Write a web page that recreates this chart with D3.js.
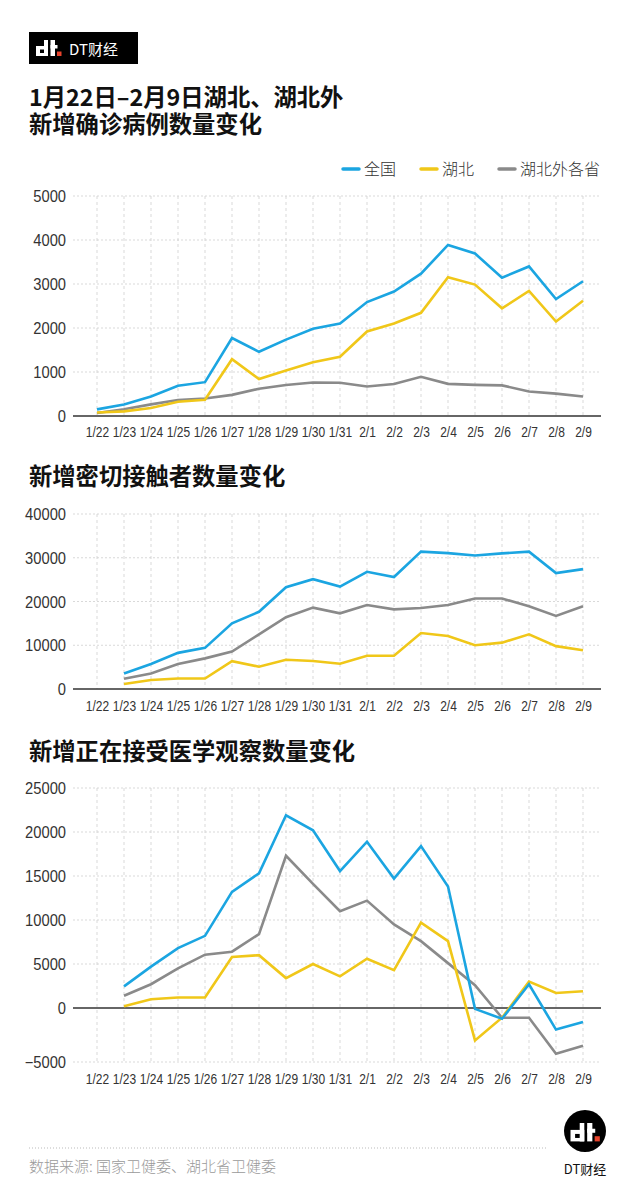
<!DOCTYPE html>
<html><head><meta charset="utf-8">
<script src="https://cdn.jsdelivr.net/npm/d3@7/dist/d3.min.js"></script>
<style>
body{margin:0;background:#fff;}
svg{display:block;}
.tick-y{font-family:"Liberation Sans",Arial,sans-serif;font-size:16px;fill:#333;}
.tick-x{font-family:"Liberation Sans",Arial,sans-serif;font-size:15px;fill:#333;}
.title{font-family:"Noto Sans CJK SC",sans-serif;font-weight:700;font-size:23.3px;fill:#111;}
.legend{font-family:"Noto Sans CJK SC",sans-serif;font-weight:300;font-size:16px;fill:#333;}
</style>
</head><body>
<script>
const dates = ["1/22","1/23","1/24","1/25","1/26","1/27","1/28","1/29","1/30","1/31","2/1","2/2","2/3","2/4","2/5","2/6","2/7","2/8","2/9"];
const seriesNames = ["全国","湖北","湖北外各省"];
const seriesColors = ["#1ba5e1","#f0c719","#8a8a8a"];

// Chart 1: 新增确诊病例
const confirmedNational = [150,259,444,688,769,1771,1459,1737,1982,2102,2590,2829,3235,3887,3694,3143,3399,2656,3062];
const confirmedHubei    = [80,105,180,323,371,1291,840,1032,1220,1347,1921,2103,2345,3156,2987,2447,2841,2147,2618];
const confirmedOther    = [70,154,264,365,398,480,619,705,762,755,669,726,890,731,707,696,558,509,444];
const ticks1 = [0,1000,2000,3000,4000,5000];

// Chart 2: 新增密切接触者 (no 1/22 data)
const contactNational = [null,3560,5700,8260,9400,15000,17650,23260,25100,23400,26800,25600,31400,31060,30500,31000,31400,26500,27400];
const contactHubei    = [null,1140,2050,2400,2400,6360,5100,6700,6400,5760,7600,7600,12800,12100,10000,10600,12500,9800,8860];
const contactOther    = [null,2350,3560,5700,7000,8560,12500,16400,18600,17300,19200,18200,18500,19200,20700,20700,18900,16700,18900];
const ticks2 = [0,10000,20000,30000,40000];

// Chart 3: 新增正在接受医学观察 (no 1/22 data)
const obsNational = [null,2460,4700,6800,8200,13200,15300,21900,20200,15560,18900,14700,18400,13800,-80,-1000,2700,-2000,-1300];
const obsHubei    = [null,200,1000,1200,1200,5800,6000,3400,5000,3600,5600,4300,9700,7600,-3000,-900,3000,1700,1900];
const obsOther    = [null,1400,2700,4500,6060,6400,8400,17300,14100,11000,12200,9500,7600,5100,2600,-900,-900,-4240,-3500];
const ticks3 = [-5000,0,5000,10000,15000,20000,25000];

const W = 641, H = 1188;
const svg = d3.select("body").append("svg").attr("width",W).attr("height",H);
svg.append("rect").attr("width",W).attr("height",H).attr("fill","#fff");

// dt logo glyph
function dtGlyph(g, s){
  const w = "#fff";
  g.append("rect").attr("x",0).attr("y",6*s).attr("width",12*s).attr("height",10*s).attr("fill",w);
  g.append("rect").attr("x",8*s).attr("y",0).attr("width",4*s).attr("height",16*s).attr("fill",w);
  g.append("rect").attr("x",4*s).attr("y",9.5*s).attr("width",4*s).attr("height",3.5*s).attr("fill","#000");
  g.append("rect").attr("x",14.5*s).attr("y",0).attr("width",4.5*s).attr("height",16*s).attr("fill",w);
  g.append("rect").attr("x",14.5*s).attr("y",5*s).attr("width",7*s).attr("height",3.5*s).attr("fill",w);
  g.append("rect").attr("x",21*s).attr("y",11.5*s).attr("width",4.5*s).attr("height",4.5*s).attr("fill","#e8432c");
}

// header logo box
svg.append("rect").attr("x",29).attr("y",32).attr("width",109).attr("height",32).attr("fill","#000");
dtGlyph(svg.append("g").attr("transform","translate(36,40)"),1);
svg.append("text").attr("x",69).attr("y",55).attr("fill","#fff")
  .style("font-family","'Noto Sans CJK SC',sans-serif").style("font-size","15px").text("DT财经");

// main title (one text, two lines)
const mainTitle = svg.append("text").attr("class","title").attr("x",29).attr("y",106);
mainTitle.append("tspan").attr("x",29).attr("y",106).text("1月22日–2月9日湖北、湖北外");
mainTitle.append("tspan").attr("x",29).attr("y",133).text("新增确诊病例数量变化");

// legend
const legendX = [343,421,499];
seriesNames.forEach((n,i)=>{
  svg.append("line").attr("x1",legendX[i]).attr("x2",legendX[i]+16).attr("y1",169).attr("y2",169)
    .attr("stroke",seriesColors[i]).attr("stroke-width",3.5).attr("stroke-linecap","round");
  svg.append("text").attr("class","legend").attr("x",legendX[i]+21).attr("y",175).text(n);
});

const x = d3.scalePoint().domain(dates).range([97,583]);
const plotL = 73, plotR = 601;

function drawChart(yScale, ticks, series, labelY){
  const g = svg.append("g");
  const top = yScale(d3.max(ticks)), bottom = yScale(d3.min(ticks));
  // vertical grid
  g.selectAll(".vg").data(dates).enter().append("line")
    .attr("x1",d=>x(d)).attr("x2",d=>x(d)).attr("y1",top).attr("y2",bottom)
    .attr("stroke","#cfcfcf").attr("stroke-width",0.8).attr("stroke-dasharray","3,3");
  // horizontal grid
  g.selectAll(".hg").data(ticks.filter(t=>t!==0)).enter().append("line")
    .attr("x1",plotL).attr("x2",plotR).attr("y1",d=>yScale(d)).attr("y2",d=>yScale(d))
    .attr("stroke","#cfcfcf").attr("stroke-width",0.8).attr("stroke-dasharray","2,2");
  // y labels
  const yAxis = d3.axisLeft(yScale).tickValues(ticks).tickSize(0).tickPadding(0).tickFormat(d3.format("d"));
  const ya = g.append("g").attr("transform",`translate(${plotL-7},0)`).call(yAxis);
  ya.select(".domain").remove();
  ya.attr("font-size",null).attr("font-family",null);
  ya.selectAll("text").attr("class","tick-y").attr("dy","0.35em").attr("transform","scale(0.92,1)");
  // x labels
  const xAxis = d3.axisBottom(x).tickSize(0).tickPadding(0);
  const xa = g.append("g").attr("transform",`translate(0,${labelY})`).call(xAxis);
  xa.select(".domain").remove();
  xa.attr("font-size",null).attr("font-family",null);
  xa.selectAll("text").attr("class","tick-x").attr("dy","0").attr("transform","scale(0.8,1)");
  // zero line
  g.append("line").attr("x1",plotL).attr("x2",plotR).attr("y1",yScale(0)).attr("y2",yScale(0))
    .attr("stroke","#333").attr("stroke-width",1.3);
  // series lines
  const line = d3.line().defined(d=>d.v!==null).x(d=>x(d.k)).y(d=>yScale(d.v));
  [2,1,0].forEach(i=>{
    const data = dates.map((k,j)=>({k, v:series[i][j]}));
    g.append("path").datum(data).attr("d",line).attr("fill","none")
      .attr("stroke",seriesColors[i]).attr("stroke-width",2.6).attr("stroke-linejoin","miter");
  });
}

const y1 = d3.scaleLinear().domain([0,5000]).range([416,196]);
drawChart(y1, ticks1, [confirmedNational,confirmedHubei,confirmedOther], 437);

svg.append("text").attr("class","title").attr("x",29).attr("y",485).text("新增密切接触者数量变化");
const y2 = d3.scaleLinear().domain([0,40000]).range([689,514]);
drawChart(y2, ticks2, [contactNational,contactHubei,contactOther], 711);

svg.append("text").attr("class","title").attr("x",29).attr("y",760).text("新增正在接受医学观察数量变化");
const y3 = d3.scaleLinear().domain([-5000,0,25000]).range([1062,1008,788]);
drawChart(y3, ticks3, [obsNational,obsHubei,obsOther], 1084);

// footer
svg.append("line").attr("x1",29).attr("x2",548).attr("y1",1148).attr("y2",1148)
  .attr("stroke","#bbb").attr("stroke-width",1).attr("stroke-dasharray","1,2");
svg.append("text").attr("x",29).attr("y",1172).attr("fill","#9a9a9a")
  .style("font-family","'Noto Sans CJK SC',sans-serif").style("font-weight","300").style("font-size","15px")
  .text("数据来源: 国家卫健委、湖北省卫健委");
svg.append("circle").attr("cx",585).attr("cy",1131).attr("r",21).attr("fill","#000");
dtGlyph(svg.append("g").attr("transform","translate(570.5,1123)"),1.15);
svg.append("text").attr("x",585).attr("y",1174).attr("text-anchor","middle").attr("fill","#111")
  .style("font-family","'Noto Sans CJK SC',sans-serif").style("font-size","13px").text("DT财经");
</script>
</body></html>
